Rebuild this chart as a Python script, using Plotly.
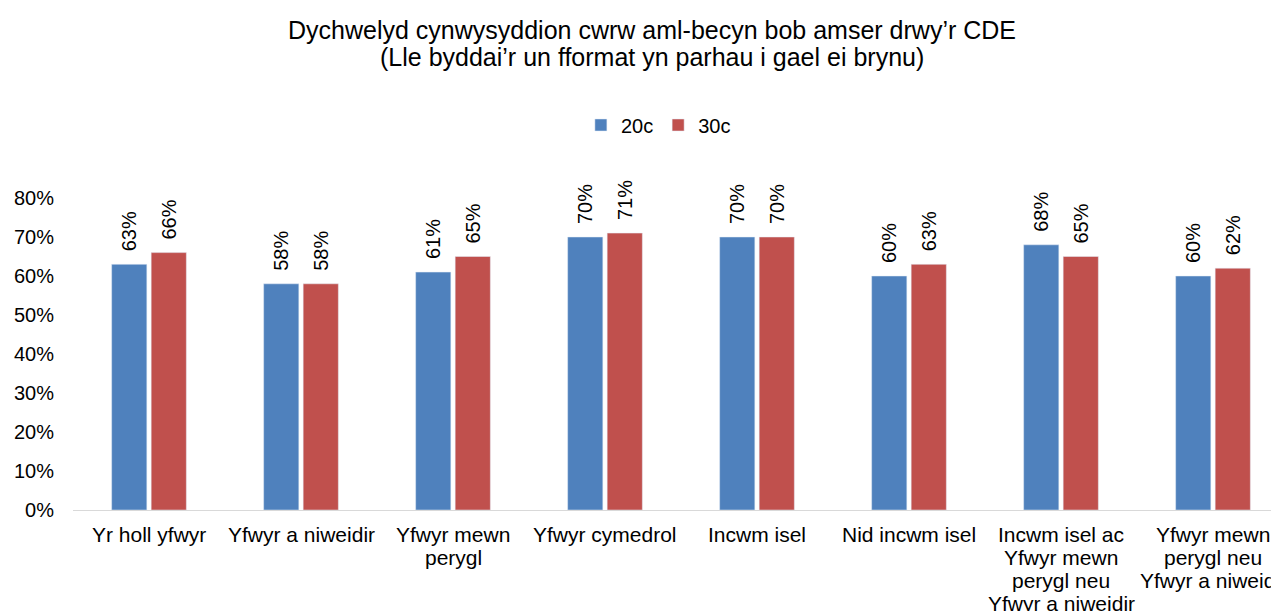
import plotly.graph_objects as go

categories = ["Yr holl yfwyr", "Yfwyr a niweidir", "Yfwyr mewn<br>perygl", "Yfwyr cymedrol",
              "Incwm isel", "Nid incwm isel",
              "Incwm isel ac<br>Yfwyr mewn<br>perygl neu<br>Yfwyr a niweidir",
              "Yfwyr mewn<br>perygl neu<br>Yfwyr a niweidir"]
vals_20c = [0.63, 0.58, 0.61, 0.70, 0.70, 0.60, 0.68, 0.60]
vals_30c = [0.66, 0.58, 0.65, 0.71, 0.70, 0.63, 0.65, 0.62]
series_names = ["20c", "30c"]
tick_vals = [0, 0.1, 0.2, 0.3, 0.4, 0.5, 0.6, 0.7, 0.8]
tick_text = ["0%", "10%", "20%", "30%", "40%", "50%", "60%", "70%", "80%"]
title_lines = ["Dychwelyd cynwysyddion cwrw aml-becyn bob amser drwy’r CDE",
               "(Lle byddai’r un fformat yn parhau i gael ei brynu)"]

font = "Liberation Sans, Arial, sans-serif"
fig = go.Figure()
for name, vals, col in [(series_names[0], vals_20c, "#4F81BD"), (series_names[1], vals_30c, "#C0504D")]:
    fig.add_trace(go.Bar(
        x=list(range(len(categories))), y=vals, name=name, marker_color=col,
        text=["\u2002" + f"{round(v*100)}%" for v in vals], textposition="outside",
        textangle=-90, constraintext="none",
        textfont=dict(size=20, color="#000000", family=font),
        cliponaxis=False,
    ))

for line, yv in zip(title_lines, [1.538, 1.452]):
    fig.add_annotation(text=line, xref="paper", yref="paper", x=0.469, y=yv,
                       xanchor="center", yanchor="middle", showarrow=False,
                       font=dict(size=25, color="#000000", family=font))

for i, cat in enumerate(categories):
    for j, part in enumerate(cat.split("<br>")):
        fig.add_annotation(text=part, xref="x", yref="paper", x=i, y=0,
                           xanchor="center", yanchor="middle", showarrow=False,
                           yshift=-(24 + 23 * j),
                           font=dict(size=21, color="#000000", family=font))

fig.update_layout(
    width=1300, height=611,
    margin=dict(l=65, r=0, t=190, b=109, autoexpand=False),
    paper_bgcolor="white", plot_bgcolor="white",
    barmode="group", bargap=0.48, bargroupgap=0.11,
    font=dict(family=font, size=20, color="#000000"),
    legend=dict(orientation="h", x=0.474, xanchor="center", y=1.234, yanchor="middle",
                font=dict(size=20, color="#000000", family=font), traceorder="normal"),
    xaxis=dict(tickmode="array", tickvals=list(range(len(categories))), ticktext=[""] * len(categories),
               range=[-0.5, 7.625], showline=True, linecolor="#D9D9D9", linewidth=1,
               showgrid=False, ticks="", automargin=False),
    yaxis=dict(range=[0, 0.8], tickvals=tick_vals, ticktext=tick_text, showgrid=False,
               zeroline=False, showline=False, ticks="", ticklabelstandoff=18, automargin=False,
               tickfont=dict(size=20, color="#000000")),
)
fig.write_html("out.html")
